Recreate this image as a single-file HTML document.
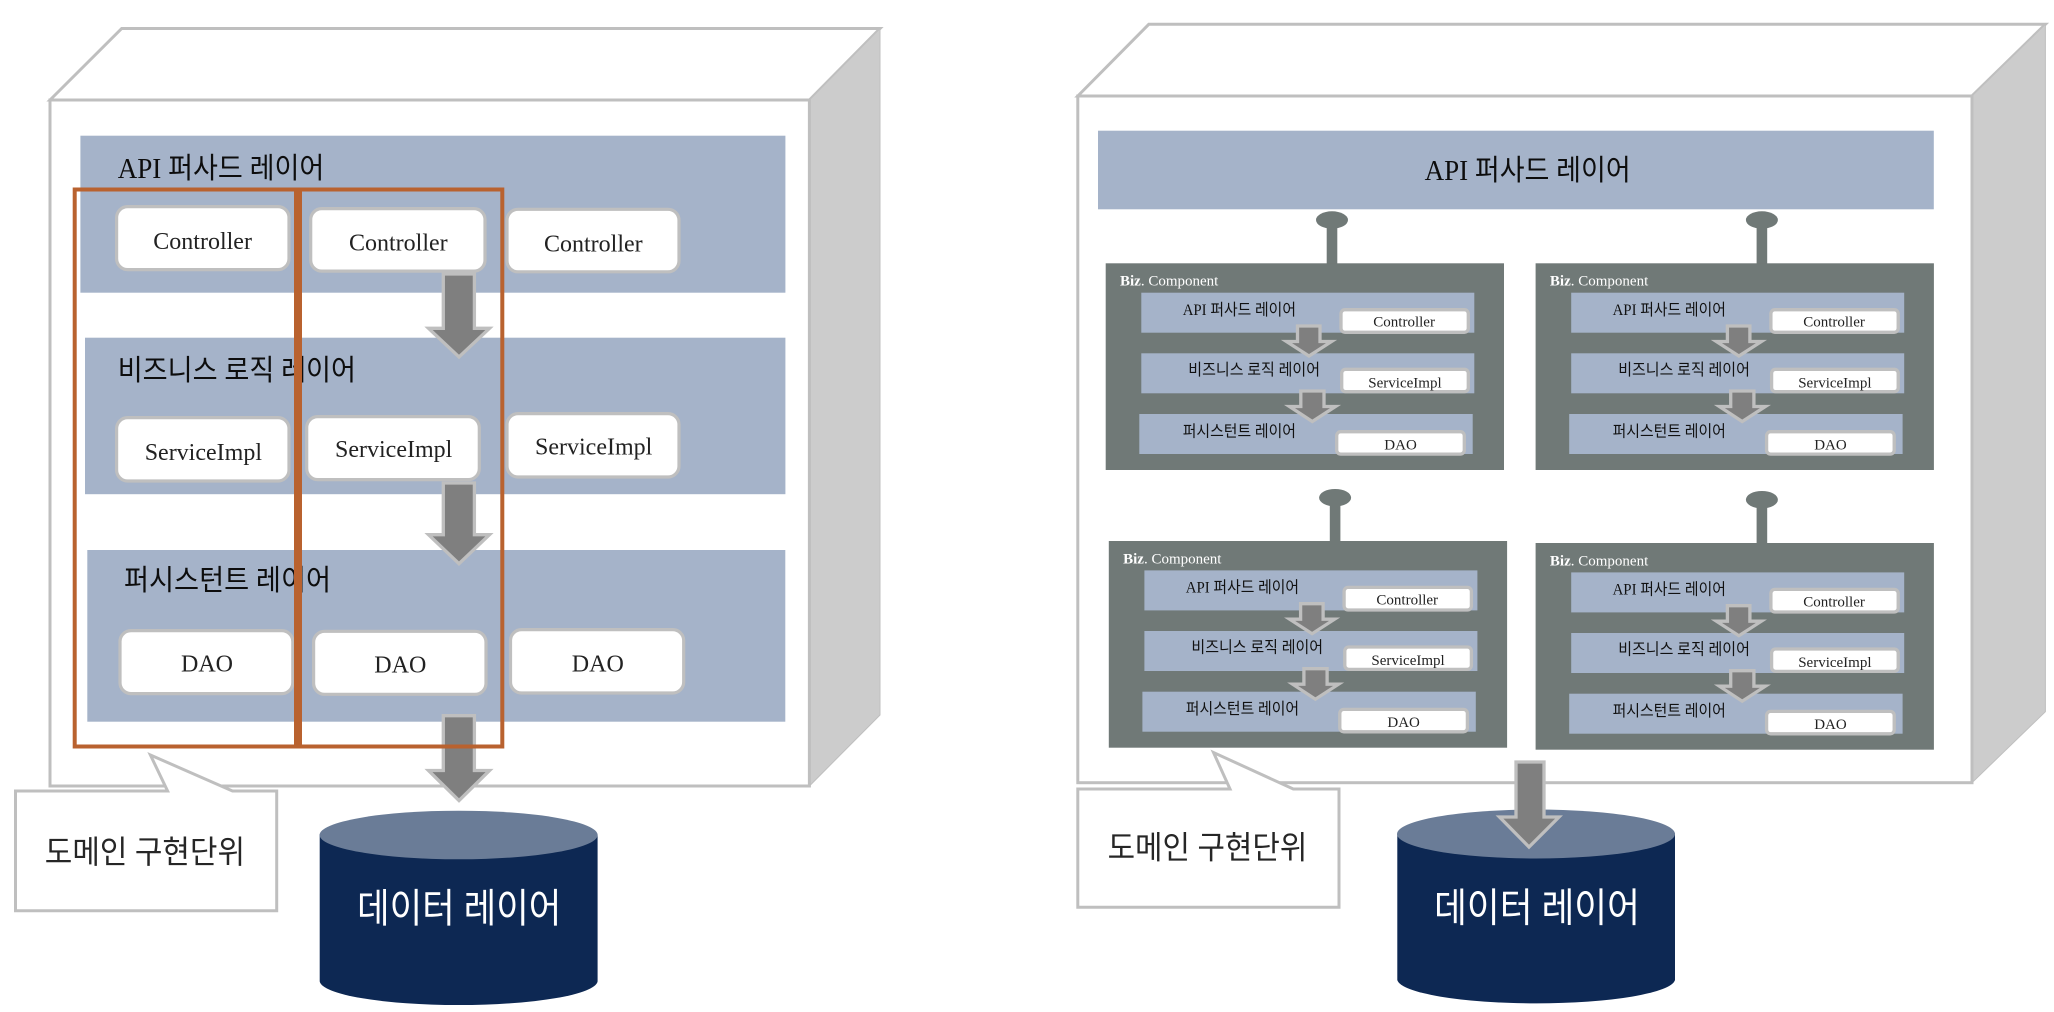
<!DOCTYPE html>
<html lang="ko">
<head>
<meta charset="utf-8">
<title>Layers</title>
<style>
html,body{margin:0;padding:0;background:#fff;width:2054px;height:1012px;overflow:hidden}
svg{display:block}
text{font-family:"Liberation Serif","Noto Sans CJK KR",serif;fill:#1c1c1c}
.ko{font-size:29px;fill:#0d0d0d}
.card{fill:#fff;stroke:#bfbfbf;stroke-width:3.2}
.t{font-size:24px;fill:#222}
.arrow{fill:#7f7f7f;stroke:#bfbfbf;stroke-width:3.3}
.layer{fill:#a5b3c9}
.sub{font-size:16px;fill:#111}
.scard{fill:#fff;stroke:#bfbfbf;stroke-width:3.3}
.s{font-size:15px;fill:#222}
.biz{fill:#707977}
.or{fill:none;stroke:#b9622f;stroke-width:4}
.box{fill:#fff;stroke:#bfbfbf;stroke-width:3}
.side{fill:#cccccc;stroke:#bfbfbf;stroke-width:1}
</style>
</head>
<body>
<svg width="2054" height="1012" viewBox="0 0 2054 1012" xmlns="http://www.w3.org/2000/svg">

<!-- LEFT BOX -->
<polygon class="box" points="50,100 121.7,28.5 880,28.5 809.4,100"/>
<polygon class="side" points="809.4,100 880,28.5 880,715 809.4,786"/>
<rect class="box" x="50" y="100" width="759.4" height="686"/>

<rect class="layer" x="80.4" y="135.7" width="705" height="157"/>
<rect class="layer" x="85" y="337.7" width="700.4" height="156.5"/>
<rect class="layer" x="87.3" y="550" width="698" height="171.7"/>

<text class="ko" x="117.7" y="178" textLength="206.6" lengthAdjust="spacingAndGlyphs">API 퍼사드 레이어</text>
<text class="ko" x="117.7" y="380" textLength="238.3" lengthAdjust="spacingAndGlyphs">비즈니스 로직 레이어</text>
<text class="ko" x="124" y="590" textLength="207" lengthAdjust="spacingAndGlyphs">퍼시스턴트 레이어</text>

<rect class="card" x="116.6" y="206.6" width="172.4" height="63" rx="11"/>
<rect class="card" x="310.7" y="208.6" width="174.3" height="62.5" rx="11"/>
<rect class="card" x="507" y="209.3" width="172" height="62.5" rx="11"/>
<rect class="card" x="116.6" y="417.6" width="172.4" height="63.4" rx="11"/>
<rect class="card" x="306.7" y="416.6" width="172.6" height="63" rx="11"/>
<rect class="card" x="507" y="413.6" width="172" height="63.4" rx="11"/>
<rect class="card" x="120" y="630.6" width="172.8" height="63" rx="11"/>
<rect class="card" x="313.6" y="631.3" width="172.4" height="63" rx="11"/>
<rect class="card" x="510.5" y="629.6" width="173.2" height="63.4" rx="11"/>

<text class="t" x="153.3" y="249">Controller</text>
<text class="t" x="349" y="250.3">Controller</text>
<text class="t" x="544" y="251.3">Controller</text>
<text class="t" x="144.7" y="460">ServiceImpl</text>
<text class="t" x="335" y="457">ServiceImpl</text>
<text class="t" x="535" y="454.7">ServiceImpl</text>
<text class="t" x="181" y="671.7">DAO</text>
<text class="t" x="374.3" y="672.7">DAO</text>
<text class="t" x="571.8" y="671.7">DAO</text>

<polygon class="arrow" points="443.3,274 474.4,274 474.4,328.3 489.5,328.3 459,357 428.5,328.3 443.3,328.3"/>
<polygon class="arrow" points="443.3,483 474.4,483 474.4,534.7 489.5,534.7 459,563.7 428.5,534.7 443.3,534.7"/>
<polygon class="arrow" points="443.3,715.7 474.4,715.7 474.4,770.5 489.5,770.5 459,800.5 428.5,770.5 443.3,770.5"/>

<rect class="or" x="74.7" y="189.5" width="221.3" height="557"/>
<rect class="or" x="300" y="189.5" width="202.3" height="557"/>

<polygon class="box" points="15.5,791 167.6,791 150.4,755 232.5,791 276.7,791 276.7,910.7 15.5,910.7"/>
<text x="44.8" y="863" style="font-size:32px;fill:#262626" textLength="200.2" lengthAdjust="spacingAndGlyphs">도메인 구현단위</text>

<path d="M319.7,835 A139,24.3 0 0 1 597.6,835 L597.6,981.4 A139,24.3 0 0 1 319.7,981.4 Z" fill="#0d2853"/>
<ellipse cx="458.6" cy="835" rx="139" ry="24.3" fill="#6a7c97"/>
<text x="357" y="922" style="font-size:40px;fill:#fff" textLength="204.4" lengthAdjust="spacingAndGlyphs">데이터 레이어</text>

<!-- RIGHT BOX -->
<polygon class="box" points="1077.8,96 1148.8,24.3 2045.4,24.3 1972,96"/>
<polygon class="side" points="1972,96 2045.4,24.3 2045.4,711.7 1972,782.7"/>
<rect class="box" x="1077.8" y="96" width="894.2" height="686.7"/>

<rect class="layer" x="1098" y="130.7" width="835.8" height="78.6"/>
<text class="ko" x="1424.6" y="180" textLength="206.1" lengthAdjust="spacingAndGlyphs">API 퍼사드 레이어</text>

<!-- Biz A -->
<g>
<ellipse class="biz" cx="1332" cy="220" rx="16" ry="8.7"/>
<rect class="biz" x="1326.7" y="225" width="10.6" height="40"/>
<rect class="biz" x="1105.7" y="263.3" width="398.3" height="206.7"/>
<text x="1120" y="285.7" style="font-size:15px;fill:#fff"><tspan font-weight="bold" fill="#fff">Biz</tspan><tspan fill="#fff">. Component</tspan></text>
<rect class="layer" x="1141.3" y="292.7" width="333" height="40"/>
<rect class="layer" x="1141.3" y="353.3" width="333" height="40"/>
<rect class="layer" x="1139.3" y="414" width="333.4" height="40"/>
<text class="sub" x="1182.7" y="314.8" textLength="113.3" lengthAdjust="spacingAndGlyphs">API 퍼사드 레이어</text>
<text class="sub" x="1188.3" y="374.8" textLength="131.7" lengthAdjust="spacingAndGlyphs">비즈니스 로직 레이어</text>
<text class="sub" x="1182.7" y="436.5" textLength="113.3" lengthAdjust="spacingAndGlyphs">퍼시스턴트 레이어</text>
<rect class="scard" x="1341" y="309.7" width="127.3" height="22.6" rx="4"/>
<rect class="scard" x="1341.7" y="369.3" width="126.6" height="22.4" rx="4"/>
<rect class="scard" x="1336.7" y="431.7" width="127.6" height="22.4" rx="4"/>
<text class="s" x="1373.3" y="326.7">Controller</text>
<text class="s" x="1368.3" y="387.3">ServiceImpl</text>
<text class="s" x="1384.3" y="449.3">DAO</text>
<polygon class="arrow" points="1297.5,326 1320,326 1320,341.5 1331.5,341.5 1309,356 1286.5,341.5 1297.5,341.5"/>
<polygon class="arrow" points="1300.8,391 1324,391 1324,406.5 1335.5,406.5 1312.3,421.5 1289.5,406.5 1300.8,406.5"/>
</g>

<!-- Biz B -->
<g transform="translate(429.9,0)">
<ellipse class="biz" cx="1332" cy="220" rx="16" ry="8.7"/>
<rect class="biz" x="1326.7" y="225" width="10.6" height="40"/>
<rect class="biz" x="1105.7" y="263.3" width="398.3" height="206.7"/>
<text x="1120" y="285.7" style="font-size:15px;fill:#fff"><tspan font-weight="bold" fill="#fff">Biz</tspan><tspan fill="#fff">. Component</tspan></text>
<rect class="layer" x="1141.3" y="292.7" width="333" height="40"/>
<rect class="layer" x="1141.3" y="353.3" width="333" height="40"/>
<rect class="layer" x="1139.3" y="414" width="333.4" height="40"/>
<text class="sub" x="1182.7" y="314.8" textLength="113.3" lengthAdjust="spacingAndGlyphs">API 퍼사드 레이어</text>
<text class="sub" x="1188.3" y="374.8" textLength="131.7" lengthAdjust="spacingAndGlyphs">비즈니스 로직 레이어</text>
<text class="sub" x="1182.7" y="436.5" textLength="113.3" lengthAdjust="spacingAndGlyphs">퍼시스턴트 레이어</text>
<rect class="scard" x="1341" y="309.7" width="127.3" height="22.6" rx="4"/>
<rect class="scard" x="1341.7" y="369.3" width="126.6" height="22.4" rx="4"/>
<rect class="scard" x="1336.7" y="431.7" width="127.6" height="22.4" rx="4"/>
<text class="s" x="1373.3" y="326.7">Controller</text>
<text class="s" x="1368.3" y="387.3">ServiceImpl</text>
<text class="s" x="1384.3" y="449.3">DAO</text>
<polygon class="arrow" points="1297.5,326 1320,326 1320,341.5 1331.5,341.5 1309,356 1286.5,341.5 1297.5,341.5"/>
<polygon class="arrow" points="1300.8,391 1324,391 1324,406.5 1335.5,406.5 1312.3,421.5 1289.5,406.5 1300.8,406.5"/>
</g>

<!-- Biz C -->
<g transform="translate(3.1,277.7)">
<ellipse class="biz" cx="1332" cy="220" rx="16" ry="8.7"/>
<rect class="biz" x="1326.7" y="225" width="10.6" height="40"/>
<rect class="biz" x="1105.7" y="263.3" width="398.3" height="206.7"/>
<text x="1120" y="285.7" style="font-size:15px;fill:#fff"><tspan font-weight="bold" fill="#fff">Biz</tspan><tspan fill="#fff">. Component</tspan></text>
<rect class="layer" x="1141.3" y="292.7" width="333" height="40"/>
<rect class="layer" x="1141.3" y="353.3" width="333" height="40"/>
<rect class="layer" x="1139.3" y="414" width="333.4" height="40"/>
<text class="sub" x="1182.7" y="314.8" textLength="113.3" lengthAdjust="spacingAndGlyphs">API 퍼사드 레이어</text>
<text class="sub" x="1188.3" y="374.8" textLength="131.7" lengthAdjust="spacingAndGlyphs">비즈니스 로직 레이어</text>
<text class="sub" x="1182.7" y="436.5" textLength="113.3" lengthAdjust="spacingAndGlyphs">퍼시스턴트 레이어</text>
<rect class="scard" x="1341" y="309.7" width="127.3" height="22.6" rx="4"/>
<rect class="scard" x="1341.7" y="369.3" width="126.6" height="22.4" rx="4"/>
<rect class="scard" x="1336.7" y="431.7" width="127.6" height="22.4" rx="4"/>
<text class="s" x="1373.3" y="326.7">Controller</text>
<text class="s" x="1368.3" y="387.3">ServiceImpl</text>
<text class="s" x="1384.3" y="449.3">DAO</text>
<polygon class="arrow" points="1297.5,326 1320,326 1320,341.5 1331.5,341.5 1309,356 1286.5,341.5 1297.5,341.5"/>
<polygon class="arrow" points="1300.8,391 1324,391 1324,406.5 1335.5,406.5 1312.3,421.5 1289.5,406.5 1300.8,406.5"/>
</g>

<!-- Biz D -->
<g transform="translate(429.9,279.7)">
<ellipse class="biz" cx="1332" cy="220" rx="16" ry="8.7"/>
<rect class="biz" x="1326.7" y="225" width="10.6" height="40"/>
<rect class="biz" x="1105.7" y="263.3" width="398.3" height="206.7"/>
<text x="1120" y="285.7" style="font-size:15px;fill:#fff"><tspan font-weight="bold" fill="#fff">Biz</tspan><tspan fill="#fff">. Component</tspan></text>
<rect class="layer" x="1141.3" y="292.7" width="333" height="40"/>
<rect class="layer" x="1141.3" y="353.3" width="333" height="40"/>
<rect class="layer" x="1139.3" y="414" width="333.4" height="40"/>
<text class="sub" x="1182.7" y="314.8" textLength="113.3" lengthAdjust="spacingAndGlyphs">API 퍼사드 레이어</text>
<text class="sub" x="1188.3" y="374.8" textLength="131.7" lengthAdjust="spacingAndGlyphs">비즈니스 로직 레이어</text>
<text class="sub" x="1182.7" y="436.5" textLength="113.3" lengthAdjust="spacingAndGlyphs">퍼시스턴트 레이어</text>
<rect class="scard" x="1341" y="309.7" width="127.3" height="22.6" rx="4"/>
<rect class="scard" x="1341.7" y="369.3" width="126.6" height="22.4" rx="4"/>
<rect class="scard" x="1336.7" y="431.7" width="127.6" height="22.4" rx="4"/>
<text class="s" x="1373.3" y="326.7">Controller</text>
<text class="s" x="1368.3" y="387.3">ServiceImpl</text>
<text class="s" x="1384.3" y="449.3">DAO</text>
<polygon class="arrow" points="1297.5,326 1320,326 1320,341.5 1331.5,341.5 1309,356 1286.5,341.5 1297.5,341.5"/>
<polygon class="arrow" points="1300.8,391 1324,391 1324,406.5 1335.5,406.5 1312.3,421.5 1289.5,406.5 1300.8,406.5"/>
</g>

<polygon class="box" points="1077.8,789 1230,789 1213.5,752.5 1293.3,789 1339,789 1339,907.3 1077.8,907.3"/>
<text x="1107.6" y="858.5" style="font-size:32px;fill:#262626" textLength="199.7" lengthAdjust="spacingAndGlyphs">도메인 구현단위</text>

<path d="M1397.3,834 A139,24.5 0 0 1 1675,834 L1675,980 A139,24.5 0 0 1 1397.3,980 Z" fill="#0d2853"/>
<ellipse cx="1536" cy="834" rx="139" ry="24.5" fill="#6a7c97"/>
<text x="1434" y="921.5" style="font-size:40px;fill:#fff" textLength="206" lengthAdjust="spacingAndGlyphs">데이터 레이어</text>

<polygon class="arrow" points="1516,762 1544,762 1544,817 1559,817 1529,847 1499.5,817 1516,817"/>
</svg>
</body>
</html>
